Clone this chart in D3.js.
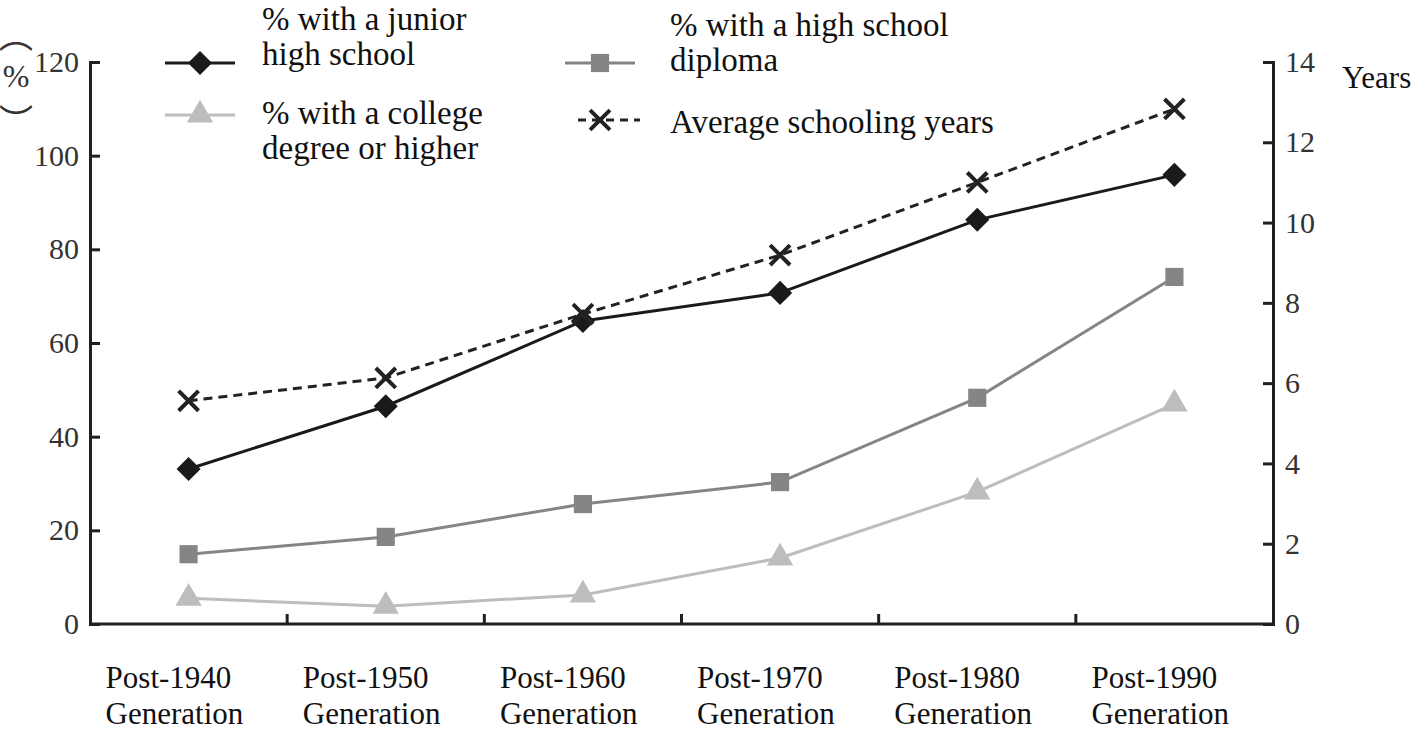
<!DOCTYPE html>
<html>
<head>
<meta charset="utf-8">
<script src="https://cdn.jsdelivr.net/npm/d3@7"></script>
<style>
  body { margin: 0; background: #fff; }
  svg, svg text { font-family: "Liberation Serif", "Times New Roman", Times, serif !important; }
  svg text.cjk { font-family: "Noto Sans CJK SC", sans-serif !important; }
</style>
</head>
<body>
<div id="container"></div>
<script>
/**
 * DATA
 * */
const categories = ["Post-1940", "Post-1950", "Post-1960", "Post-1970", "Post-1980", "Post-1990"];
const juniorHigh = [33.1, 46.5, 64.7, 70.7, 86.3, 95.9];
const highSchool = [14.9, 18.6, 25.6, 30.3, 48.3, 74.1];
const college = [5.5, 3.8, 6.2, 14.1, 28.2, 47.0];
const avgYears = [5.56, 6.13, 7.72, 9.19, 11.0, 12.83];
const leftTicks = [0, 20, 40, 60, 80, 100, 120];
const rightTicks = [0, 2, 4, 6, 8, 10, 12, 14];

/**
 * CONSTANTS
 * */
const width = 1417,
  height = 733,
  margin = { top: 62, bottom: 109, left: 90, right: 144 };

const svg = d3.select("#container")
  .append("svg")
  .attr("width", width)
  .attr("height", height);

const x = d3.scaleBand()
  .domain(categories)
  .range([margin.left, width - margin.right]);

const yLeft = d3.scaleLinear()
  .domain([0, 120])
  .range([height - margin.bottom, margin.top]);

const yRight = d3.scaleLinear()
  .domain([0, 14])
  .range([height - margin.bottom, margin.top]);

const cx = d => x(d) + x.bandwidth() / 2;

// axes
const axisStyle = g => {
  g.attr("font-family", null);
  g.select(".domain").attr("stroke", "#231f20").attr("stroke-width", 3);
  g.selectAll(".tick line").attr("stroke", "#231f20").attr("stroke-width", 3);
  g.selectAll(".tick text").attr("fill", "#333").attr("font-size", 30);
};

svg.append("g")
  .attr("transform", `translate(${margin.left},0)`)
  .call(d3.axisLeft(yLeft).tickValues(leftTicks).tickSize(-10).tickSizeOuter(-10).tickPadding(11))
  .call(axisStyle);

svg.append("g")
  .attr("transform", `translate(${width - margin.right},0)`)
  .call(d3.axisRight(yRight).tickValues(rightTicks).tickSize(-10).tickSizeOuter(-10).tickPadding(12))
  .call(axisStyle);

// bottom axis with ticks at band edges
const bottom = svg.append("g");
bottom.append("line")
  .attr("x1", margin.left).attr("x2", width - margin.right)
  .attr("y1", yLeft(0)).attr("y2", yLeft(0))
  .attr("stroke", "#231f20").attr("stroke-width", 3);
bottom.selectAll("line.tk")
  .data(categories.slice(1))
  .join("line")
  .attr("class", "tk")
  .attr("x1", d => x(d)).attr("x2", d => x(d))
  .attr("y1", yLeft(0)).attr("y2", yLeft(0) - 10)
  .attr("stroke", "#231f20").attr("stroke-width", 3);

const catLabels = bottom.selectAll("text.cat")
  .data(categories)
  .join("text")
  .attr("class", "cat")
  .attr("x", d => cx(d) - 83)
  .attr("y", 688)
  .attr("font-size", 31)
  .attr("fill", "#111");
catLabels.append("tspan").text(d => d);
catLabels.append("tspan").attr("x", d => cx(d) - 83).attr("dy", 36).text("Generation");

// axis titles
svg.append("text").attr("x", 1342).attr("y", 88).attr("font-size", 31).attr("fill", "#111").text("Years");
const pct = svg.append("g").attr("fill", "#333").attr("text-anchor", "middle");
pct.append("text").attr("class", "cjk").attr("x", 16).attr("y", 48).attr("font-size", 34).text("︵");
pct.append("text").attr("x", 16).attr("y", 87).attr("font-size", 32).text("%");
pct.append("text").attr("class", "cjk").attr("x", 16).attr("y", 134).attr("font-size", 34).text("︶");

// series
const series = [
  { name: "junior", values: juniorHigh, scale: yLeft, color: "#1a1a1a", dash: null, symbol: d3.symbolSquare, size: 290, rot: 45 },
  { name: "high", values: highSchool, scale: yLeft, color: "#858585", dash: null, symbol: d3.symbolSquare, size: 330, rot: 0 },
  { name: "college", values: college, scale: yLeft, color: "#bdbdbd", dash: null, symbol: d3.symbolTriangle, size: 300, rot: 0 },
  { name: "years", values: avgYears, scale: yRight, color: "#222", dash: "9,6", symbol: d3.symbolX, size: 260, rot: 0 }
];

series.forEach(s => {
  const line = d3.line()
    .x((d, i) => cx(categories[i]))
    .y(d => s.scale(d));
  svg.append("path")
    .datum(s.values)
    .attr("d", line)
    .attr("fill", "none")
    .attr("stroke", s.color)
    .attr("stroke-width", 3)
    .attr("stroke-dasharray", s.dash);
  const sym = d3.symbol().type(s.symbol).size(s.size);
  svg.selectAll(`path.m-${s.name}`)
    .data(s.values)
    .join("path")
    .attr("class", `m-${s.name}`)
    .attr("transform", (d, i) => `translate(${cx(categories[i])},${s.scale(d)}) rotate(${s.rot})`)
    .attr("d", sym)
    .attr("fill", s.symbol === d3.symbolX ? "none" : s.color)
    .attr("stroke", s.symbol === d3.symbolX ? s.color : "none")
    .attr("stroke-width", 4);
});

// legend
const legendItems = [
  { s: series[0], x: 165, y: 63, lines: ["% with a junior", "high school"], tx: 262, ty: 30 },
  { s: series[2], x: 165, y: 115, lines: ["% with a college", "degree or higher"], tx: 262, ty: 124 },
  { s: series[1], x: 565, y: 63, lines: ["% with a high school", "diploma"], tx: 670, ty: 36 },
  { s: series[3], x: 578, y: 120, lines: ["Average schooling years"], tx: 670, ty: 133 }
];

legendItems.forEach(l => {
  const g = svg.append("g");
  const len = l.s.dash ? 62 : 70;
  g.append("line")
    .attr("x1", l.x).attr("x2", l.x + len)
    .attr("y1", l.y).attr("y2", l.y)
    .attr("stroke", l.s.color).attr("stroke-width", 3)
    .attr("stroke-dasharray", l.s.dash ? "8,6" : null);
  g.append("path")
    .attr("transform", `translate(${l.x + (l.s.dash ? 22 : 35)},${l.y}) rotate(${l.s.rot})`)
    .attr("d", d3.symbol().type(l.s.symbol).size(l.s.size))
    .attr("fill", l.s.symbol === d3.symbolX ? "none" : l.s.color)
    .attr("stroke", l.s.symbol === d3.symbolX ? l.s.color : "none")
    .attr("stroke-width", 4);
  const t = g.append("text").attr("font-size", 33).attr("fill", "#111");
  l.lines.forEach((txt, i) => {
    t.append("tspan").attr("x", l.tx).attr("y", l.ty + i * 35).text(txt);
  });
});
</script>
</body>
</html>
